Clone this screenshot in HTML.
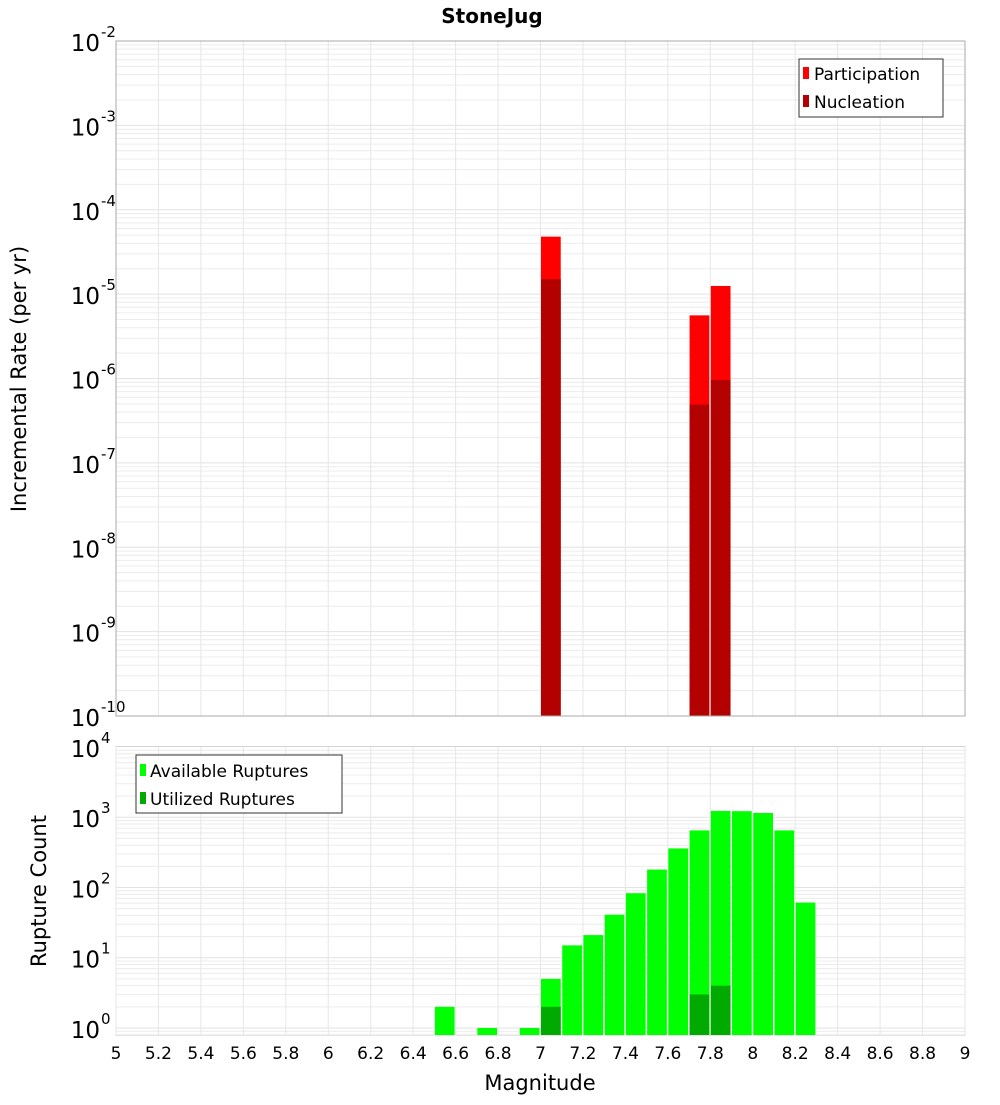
<!DOCTYPE html>
<html><head><meta charset="utf-8"><style>
body{margin:0;background:#fff;}
svg text{font-family:"DejaVu Sans","Liberation Sans",sans-serif;}
</style></head><body>
<svg id="chart" width="1000" height="1100" xmlns="http://www.w3.org/2000/svg">
<text x="492" y="23" font-size="20" font-weight="bold" text-anchor="middle">StoneJug</text>
<g id="gTop"></g><g id="gBot"></g>
<text transform="translate(26,379) rotate(-90)" font-size="21" text-anchor="middle">Incremental Rate (per yr)</text>
<text transform="translate(46,891) rotate(-90)" font-size="21" text-anchor="middle">Rupture Count</text>
<text x="540" y="1090" font-size="21" text-anchor="middle">Magnitude</text>
<g>
<rect x="799" y="59" width="144" height="58" fill="#fff" stroke="#333" stroke-width="1"/>
<rect x="803" y="67" width="6" height="12" fill="#ff0000"/>
<text x="814" y="80" font-size="17">Participation</text>
<rect x="803" y="95" width="6" height="12" fill="#b30000"/>
<text x="814" y="108" font-size="17">Nucleation</text>
</g>
<g>
<rect x="136" y="755" width="206" height="58" fill="#fff" stroke="#333" stroke-width="1"/>
<rect x="140" y="764" width="6" height="12" fill="#00ff00"/>
<text x="150" y="777" font-size="17">Available Ruptures</text>
<rect x="140" y="792" width="6" height="12" fill="#00aa00"/>
<text x="150" y="805" font-size="17">Utilized Ruptures</text>
</g>
</svg>
<script>
const mags = [7.0, 7.7, 7.8];
const participation = [4.8e-5, 5.6e-6, 1.25e-5];
const nucleation = [1.5e-5, 4.9e-7, 9.6e-7];
const countMags = [6.5,6.7,6.9,7.0,7.1,7.2,7.3,7.4,7.5,7.6,7.7,7.8,7.9,8.0,8.1,8.2];
const available = [2,1,1,5,15,21,41,83,180,360,650,1230,1220,1150,650,61];
const utilizedMags = [7.0,7.7,7.8];
const utilized = [2,3,4];
const xTicks = [5,5.2,5.4,5.6,5.8,6,6.2,6.4,6.6,6.8,7,7.2,7.4,7.6,7.8,8,8.2,8.4,8.6,8.8,9];
const topExps = [-2,-3,-4,-5,-6,-7,-8,-9,-10];
const botExps = [4,3,2,1,0];

const NS="http://www.w3.org/2000/svg";
const X0=116,X1=965;
const xs=m=>X0+(m-5)/4*(X1-X0);
const T0=41,T1=716,tMin=-10,tMax=-2;
const yt=v=>T0+(tMax-Math.log10(v))/(tMax-tMin)*(T1-T0);
const B0=747,B1=1035,bMin=-0.1,bMax=4;
const yb=v=>B0+(bMax-Math.log10(v))/(bMax-bMin)*(B1-B0);
function el(p,t,a){const e=document.createElementNS(NS,t);for(const k in a)e.setAttribute(k,a[k]);p.appendChild(e);return e;}

function panel(g,y0,y1,emin,emax,yf){
  el(g,'rect',{x:X0,y:y0,width:X1-X0,height:y1-y0,fill:'#fff'});
  const lo=Math.floor(emin);
  for(let e=lo;e<emax;e++)for(let k=1;k<10;k++){
    const v=k*Math.pow(10,e);const lv=Math.log10(v);
    if(lv<emin||lv>emax)continue;const y=yf(v);
    const l=el(g,'line',{x1:X0,x2:X1,y1:y,y2:y,stroke:k==1?'#e2e2e2':'#ececec','stroke-width':1});
    
    
  }
  xTicks.forEach(t=>{const x=xs(t);
    const l=el(g,'line',{x1:x,x2:x,y1:y0,y2:y1,stroke:'#e6e6e6','stroke-width':1});
    
    
  });
}
const gTop=document.getElementById('gTop'),gBot=document.getElementById('gBot');
panel(gTop,T0,T1,tMin,tMax,yt);
panel(gBot,B0,B1,bMin,bMax,yb);
const bw=(X1-X0)/40-1.5;
mags.forEach((m,i)=>{
  const r=el(gTop,'rect',{x:xs(m)+0.5,y:yt(participation[i]),width:bw,height:T1-yt(participation[i]),fill:'#ff0000'});
  
  
  const n=el(gTop,'rect',{x:xs(m)+0.5,y:yt(nucleation[i]),width:bw,height:T1-yt(nucleation[i]),fill:'#b30000'});
  
  
});
countMags.forEach((m,i)=>{
  const r=el(gBot,'rect',{x:xs(m)+0.5,y:yb(available[i]),width:bw,height:B1-yb(available[i]),fill:'#00ff00'});
  
  
});
utilizedMags.forEach((m,i)=>{
  const r=el(gBot,'rect',{x:xs(m)+0.5,y:yb(utilized[i]),width:bw,height:B1-yb(utilized[i]),fill:'#00aa00'});
  
  
});
[[T0,T1],[B0,B1]].forEach(([a,b])=>{
  const r=el(gTop,'rect',{x:X0,y:a,width:X1-X0,height:b-a,fill:'none',stroke:'#aaa','stroke-width':1});
  
  
});
function ylab2(g,y,e){
  const t=el(g,'text',{x:100,y:y+10,'font-size':23,'text-anchor':'end'});
  
  
  t.textContent='10';
  const s=el(g,'text',{x:101,y:y-4,'font-size':15});
  
  
  s.textContent=String(e);
}
topExps.forEach(e=>ylab2(gTop,yt(Math.pow(10,e)),e));
botExps.forEach(e=>ylab2(gBot,yb(Math.pow(10,e)),e));
xTicks.forEach(t=>{
  const x=el(gBot,'text',{x:xs(t),y:1059,'font-size':17,'text-anchor':'middle'});
  
  
  x.textContent=String(t);
});
</script>
</body></html>
